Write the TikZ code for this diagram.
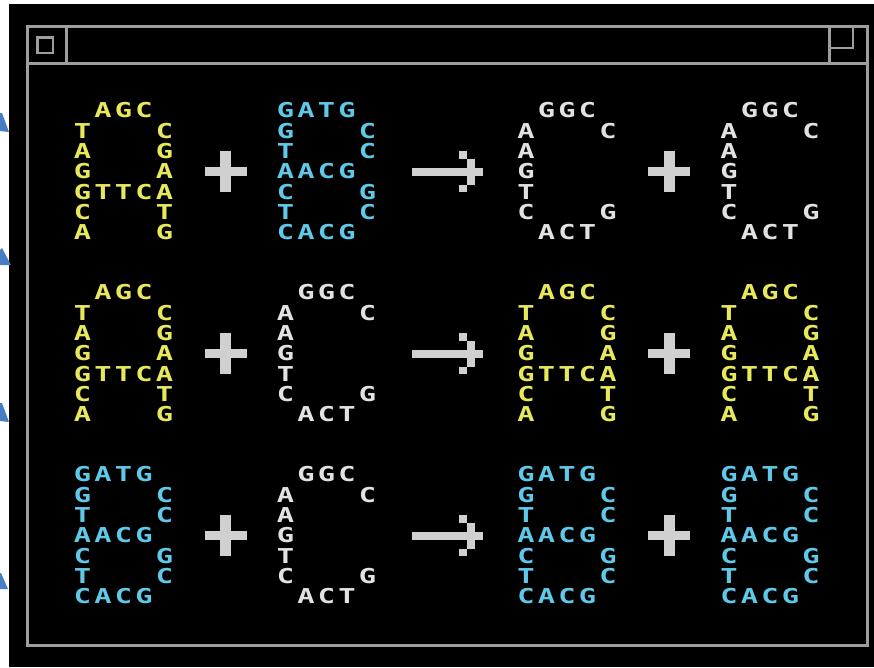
\documentclass[tikz,border=0pt]{standalone}
\usepackage{fontspec}
\newfontfamily\retro{DejaVu Sans Mono}
\definecolor{ryellow}{RGB}{232,232,92}
\definecolor{rcyan}{RGB}{96,200,232}
\definecolor{rwhite}{RGB}{226,226,226}
\definecolor{signgray}{RGB}{208,208,208}
\definecolor{framegray}{RGB}{158,158,158}
\definecolor{markblue}{RGB}{70,125,195}
\tikzset{
  glyph/.style={inner sep=0pt, font=\retro\bfseries\fontsize{20.5}{20.5}\selectfont},
  framel/.style={draw=framegray, line width=3pt},
  iconl/.style={draw=framegray, line width=2.5pt},
  signfill/.style={fill=signgray, draw=none},
}
\def\listA{1/0/A,2/0/G,3/0/C,0/1/T,4/1/C,0/2/A,4/2/G,0/3/G,4/3/A,0/4/G,1/4/T,2/4/T,3/4/C,4/4/A,0/5/C,4/5/T,0/6/A,4/6/G}
\def\listB{0/0/G,1/0/A,2/0/T,3/0/G,0/1/G,4/1/C,0/2/T,4/2/C,0/3/A,1/3/A,2/3/C,3/3/G,0/4/C,4/4/G,0/5/T,4/5/C,0/6/C,1/6/A,2/6/C,3/6/G}
\def\listC{1/0/G,2/0/G,3/0/C,0/1/A,4/1/C,0/2/A,0/3/G,0/4/T,0/5/C,4/5/G,1/6/A,2/6/C,3/6/T}
\newcommand{\dnablock}[5]{%
  \foreach \c/\r/\t in #5
    \node[glyph, text=#4] (#1-\c-\r) at ({#2+\c*20.5},{#3+\r*20.33}) {\scalebox{1.4}[1]{\t}};
}
\newcommand{\plussign}[2]{%
  \fill[signfill] ({#1-21},{#2-4.3}) rectangle ({#1+21},{#2+4.3});
  \fill[signfill] ({#1-5.5},{#2-20.5}) rectangle ({#1+5.5},{#2+20.5});
}
\newcommand{\arrowsign}[2]{%
  \fill[signfill] (412,{#2-4}) rectangle (483,{#2+4});
  \fill[signfill] (467,{#2-13}) rectangle (475,{#2-4});
  \fill[signfill] (467,{#2+4}) rectangle (475,{#2+13});
  \fill[signfill] (459,{#2-20.5}) rectangle (467,{#2-13});
  \fill[signfill] (459,{#2+13}) rectangle (467,{#2+20.5});
}
\begin{document}
\begin{tikzpicture}[x=1pt,y=-1pt]
\useasboundingbox (0,0) rectangle (874,667);
\fill[white] (0,0) rectangle (874,667);
\fill[black] (9,4) rectangle (874,667);
% blue marks at left edge
\fill[markblue] (0,113) -- (2,113) -- (9,132) -- (0,131) -- cycle;
\fill[markblue] (0,250) -- (2,248) -- (11,265) -- (0,265) -- cycle;
\fill[markblue] (0,403) -- (2,403) -- (9,422) -- (0,421) -- cycle;
\fill[markblue] (0,573) -- (1,573) -- (8,589) -- (0,589) -- cycle;
% window frame
\draw[framel] (27,26) rectangle (867,645);
\draw[framel] (27,63) -- (867,63);
\draw[framel] (66,26) -- (66,63);
\draw[framel] (829,26) -- (829,63);
\draw[iconl] (37.5,37.5) rectangle (53,53);
\draw[iconl] (853,26) -- (853,48) -- (829,48);
% row 1
\dnablock{a1}{82.5}{110.5}{ryellow}{\listA}
\plussign{225.5}{171.7}
\dnablock{b1}{285.5}{110.5}{rcyan}{\listB}
\arrowsign{0}{171.7}
\dnablock{c1}{526}{110.5}{rwhite}{\listC}
\plussign{669}{171.7}
\dnablock{c2}{729}{110.5}{rwhite}{\listC}
% row 2
\dnablock{a2}{82.5}{292.5}{ryellow}{\listA}
\plussign{225.5}{353.7}
\dnablock{c3}{285.5}{292.5}{rwhite}{\listC}
\arrowsign{0}{353.7}
\dnablock{a3}{526}{292.5}{ryellow}{\listA}
\plussign{669}{353.7}
\dnablock{a4}{729}{292.5}{ryellow}{\listA}
% row 3
\dnablock{b2}{82.5}{474.5}{rcyan}{\listB}
\plussign{225.5}{535.7}
\dnablock{c4}{285.5}{474.5}{rwhite}{\listC}
\arrowsign{0}{535.7}
\dnablock{b3}{526}{474.5}{rcyan}{\listB}
\plussign{669}{535.7}
\dnablock{b4}{729}{474.5}{rcyan}{\listB}
\end{tikzpicture}
\end{document}
